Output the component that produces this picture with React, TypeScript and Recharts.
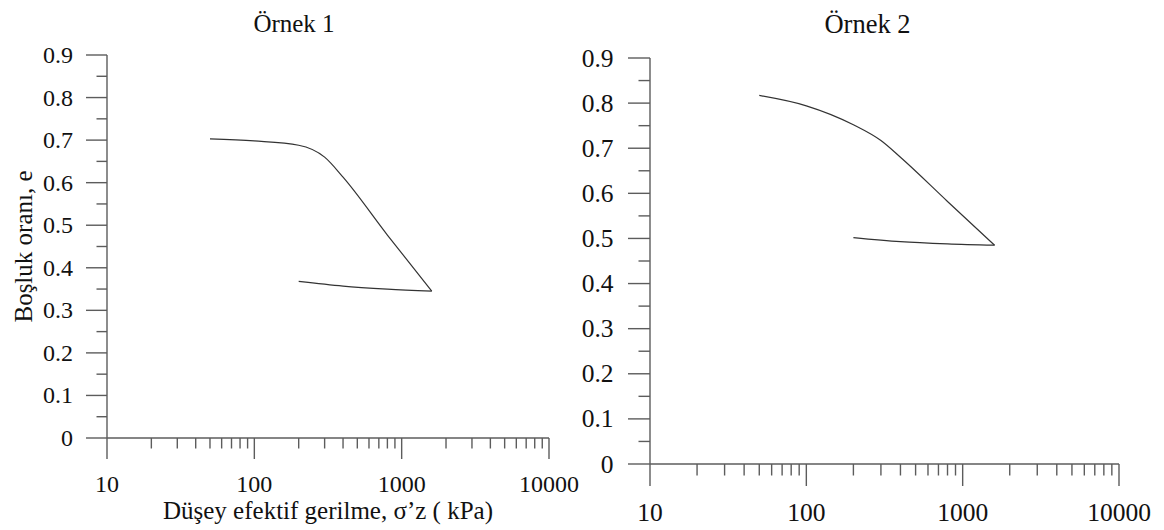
import React from 'react';
import { LineChart, Line, XAxis, YAxis } from 'recharts';

// Örnek 1 - yükleme / boşaltma
const loadPressure1 = [50, 100, 200, 300, 400, 800, 1600];
const loadVoid1 = [0.703, 0.698, 0.688, 0.66, 0.613, 0.477, 0.345];
const unloadPressure1 = [1600, 800, 400, 200];
const unloadVoid1 = [0.345, 0.35, 0.357, 0.368];

// Örnek 2
const loadPressure2 = [50, 100, 200, 300, 400, 800, 1600];
const loadVoid2 = [0.817, 0.794, 0.752, 0.717, 0.68, 0.582, 0.485];
const unloadPressure2 = [1600, 800, 400, 200];
const unloadVoid2 = [0.485, 0.488, 0.493, 0.502];

const xMajorTicks = [10, 100, 1000, 10000];
const xMinorFactors = [2, 3, 4, 5, 6, 7, 8, 9];
const yMajorTicks = [0, 0.1, 0.2, 0.3, 0.4, 0.5, 0.6, 0.7, 0.8, 0.9];
const yMinorTicks = [0.05, 0.15, 0.25, 0.35, 0.45, 0.55, 0.65, 0.75, 0.85];
const yTickLabels = ['0', '0.1', '0.2', '0.3', '0.4', '0.5', '0.6', '0.7', '0.8', '0.9'];

const xTicks = [
  ...xMajorTicks,
  ...xMajorTicks.slice(0, 3).flatMap((m) => xMinorFactors.map((f) => m * f)),
].sort((a, b) => a - b);
const yTicks = [...yMajorTicks, ...yMinorTicks].sort((a, b) => a - b);

const FONT = '"Liberation Serif", serif';
const AXIS = '#5c5c5c';
const INK = '#111';

const toRows = (px: number[], ey: number[]) => px.map((p, i) => ({ p, e: ey[i] }));

const XTick = (props: any) => {
  const { x, y, payload, cfg } = props;
  const major = xMajorTicks.includes(payload.value);
  return (
    <g>
      <line x1={x} x2={x} y1={y} y2={y + (major ? cfg.majorLen : cfg.minorLen)} stroke={AXIS} strokeWidth={1.4} />
      {major && (
        <text x={x} y={y + cfg.xLabelGap} textAnchor="middle" dominantBaseline="central"
          style={{ fontFamily: FONT, fontSize: cfg.tickFont, fill: INK }}>
          {String(payload.value)}
        </text>
      )}
    </g>
  );
};

const YTick = (props: any) => {
  const { x, y, payload, cfg } = props;
  const idx = yMajorTicks.indexOf(payload.value);
  const major = idx >= 0;
  return (
    <g>
      <line x1={x} x2={x - (major ? cfg.majorLen : cfg.minorLen)} y1={y} y2={y} stroke={AXIS} strokeWidth={1.4} />
      {major && (
        <text x={x - cfg.yLabelGap} y={y} textAnchor="end" dominantBaseline="central"
          style={{ fontFamily: FONT, fontSize: cfg.tickFont, fill: INK }}>
          {yTickLabels[idx]}
        </text>
      )}
    </g>
  );
};

const XTitle = (props: any) => {
  const { viewBox } = props;
  if (!viewBox) return null;
  return (
    <text x={viewBox.x + viewBox.width / 2} y={viewBox.y + 72} textAnchor="middle" dominantBaseline="central"
      style={{ fontFamily: FONT, fontSize: 25, fill: INK }}>
      Düşey efektif gerilme, σ’z ( kPa)
    </text>
  );
};

const YTitle = (props: any) => {
  const { viewBox } = props;
  if (!viewBox) return null;
  const cx = viewBox.x + 23;
  const cy = viewBox.y + viewBox.height / 2;
  return (
    <text x={cx} y={cy} transform={`rotate(-90 ${cx} ${cy})`} textAnchor="middle" dominantBaseline="central"
      style={{ fontFamily: FONT, fontSize: 25, fill: INK }}>
      Boşluk oranı, e
    </text>
  );
};

const Panel = ({ cfg, title, load, unload, withLabels }: any) => (
  <div style={{ position: 'absolute', left: cfg.left, top: 0, width: cfg.width, height: 530, fontFamily: FONT }}>
    <div style={{
      position: 'absolute', left: cfg.titleX - 100, width: 200, top: cfg.titleTop, textAlign: 'center',
      fontFamily: FONT, fontSize: cfg.titleFont, lineHeight: 1, color: INK,
    }}>
      {title}
    </div>
    <LineChart width={cfg.width} height={530} margin={cfg.margin} style={{ fontFamily: FONT }}>
      <XAxis
        dataKey="p" type="number" scale="log" domain={[10, 10000]} allowDataOverflow
        ticks={xTicks} interval={0} tickSize={0} tickMargin={0} height={cfg.xAxisHeight}
        axisLine={{ stroke: AXIS, strokeWidth: 1.4 }} tickLine={false}
        tick={(p: any) => <XTick {...p} cfg={cfg} />}
        label={withLabels ? <XTitle /> : undefined}
      />
      <YAxis
        dataKey="e" type="number" domain={[0, 0.9]} allowDataOverflow
        ticks={yTicks} interval={0} tickSize={0} tickMargin={0} width={cfg.yAxisWidth}
        axisLine={{ stroke: AXIS, strokeWidth: 1.4 }} tickLine={false}
        tick={(p: any) => <YTick {...p} cfg={cfg} />}
        label={withLabels ? <YTitle /> : undefined}
      />
      <Line data={load} dataKey="e" type="monotone" stroke="#333" strokeWidth={1.2} dot={false} isAnimationActive={false} />
      <Line data={unload} dataKey="e" type="monotone" stroke="#333" strokeWidth={1.2} dot={false} isAnimationActive={false} />
    </LineChart>
  </div>
);

const leftCfg = {
  left: 0, width: 580, margin: { top: 55, right: 31, left: 0, bottom: 0 },
  yAxisWidth: 107, xAxisHeight: 92, majorLen: 21, minorLen: 10.5, tickFont: 24,
  yLabelGap: 34, xLabelGap: 45.5, titleFont: 25, titleX: 294, titleTop: 11,
};
const rightCfg = {
  left: 580, width: 584, margin: { top: 58, right: 45, left: 0, bottom: 0 },
  yAxisWidth: 70, xAxisHeight: 66, majorLen: 22, minorLen: 11.5, tickFont: 25.5,
  yLabelGap: 36.5, xLabelGap: 48.7, titleFont: 26.5, titleX: 287.5, titleTop: 11,
};

export default function App() {
  return (
    <div style={{ position: 'absolute', left: 0, top: 0, width: 1164, height: 530, background: '#fff' }}>
      <Panel cfg={leftCfg} title="Örnek 1" withLabels
        load={toRows(loadPressure1, loadVoid1)} unload={toRows(unloadPressure1, unloadVoid1)} />
      <Panel cfg={rightCfg} title="Örnek 2" withLabels={false}
        load={toRows(loadPressure2, loadVoid2)} unload={toRows(unloadPressure2, unloadVoid2)} />
    </div>
  );
}
